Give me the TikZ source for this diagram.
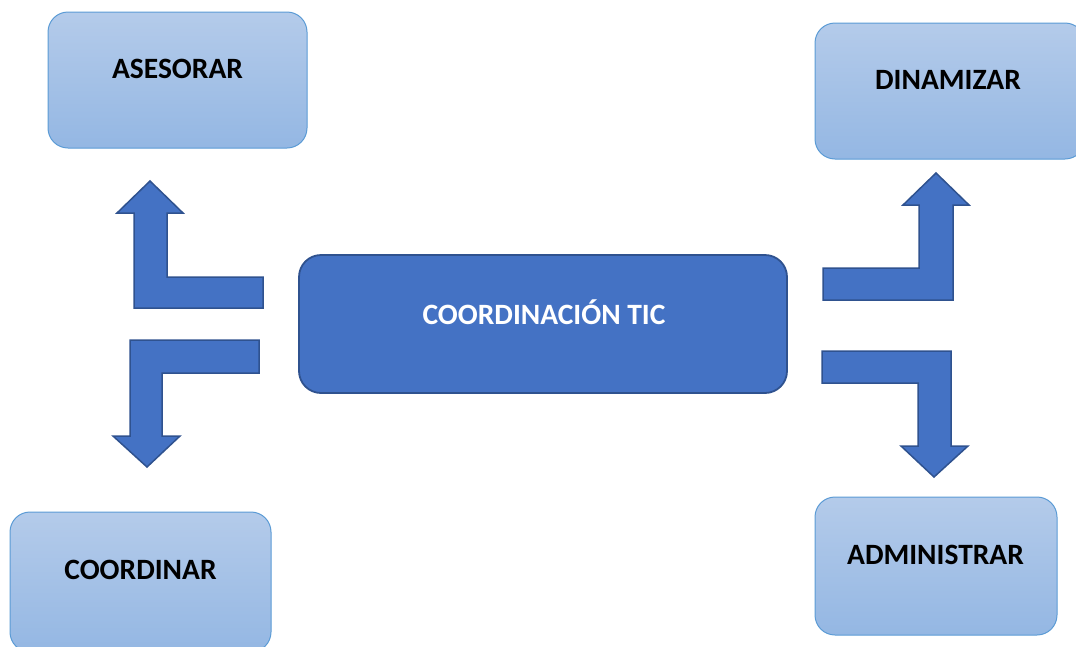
\documentclass[tikz,border=0pt]{standalone}
\usepackage{fontspec}
\setmainfont{Carlito}
\definecolor{arrowfill}{RGB}{68,114,196}
\definecolor{arrowdraw}{RGB}{47,82,143}
\definecolor{boxtop}{RGB}{180,203,234}
\definecolor{boxbot}{RGB}{148,183,227}
\definecolor{boxdraw}{RGB}{91,155,213}
\begin{document}
\begin{tikzpicture}[x=1pt,y=-1pt,
  smallbox/.style={rectangle, rounded corners=20pt, draw=boxdraw, line width=1pt,
    top color=boxtop, bottom color=boxbot, inner sep=0pt},
  mainbox/.style={rectangle, rounded corners=22pt, draw=arrowdraw, line width=1.8pt,
    fill=arrowfill, inner sep=0pt},
  lbl/.style={anchor=base, font=\fontsize{29.5}{34}\selectfont\bfseries, text=black, inner sep=0pt},
  mainlbl/.style={lbl, text=white},
  blockarrow/.style={fill=arrowfill, draw=arrowdraw, line width=1.5pt, line join=miter}]
\useasboundingbox (0,0) rectangle (1076,646);
% boxes
\node[smallbox, minimum width=259pt, minimum height=136pt] (asesorar) at (177.5,80) {};
\node[smallbox, minimum width=270pt, minimum height=136pt] (dinamizar) at (950,91) {};
\node[smallbox, minimum width=261pt, minimum height=140pt] (coordinar) at (140.5,582) {};
\node[smallbox, minimum width=242pt, minimum height=138pt] (administrar) at (936,566) {};
\node[mainbox, minimum width=488pt, minimum height=138pt] (coordtic) at (543,324) {};
% labels
\node[lbl] (asesorarT) at (177.5,78.5) {ASESORAR};
\node[lbl] (dinamizarT) at (948,89) {DINAMIZAR};
\node[lbl] (coordinarT) at (140.5,579) {COORDINAR};
\node[lbl] (administrarT) at (935.5,564) {ADMINISTRAR};
\node[mainlbl] (coordticT) at (544,324) {COORDINACIÓN TIC};
% bent block arrows
% up-left (to ASESORAR)
\draw[blockarrow] (263,277) -- (167,277) -- (167,213) -- (183,213) -- (150,181) -- (117,213)
  -- (134,213) -- (134,308) -- (263,308) -- cycle;
% down-left (to COORDINAR)
\draw[blockarrow] (259,340) -- (130,340) -- (130,436) -- (113,436) -- (147,467) -- (180,436)
  -- (162,436) -- (162,373) -- (259,373) -- cycle;
% up-right (to DINAMIZAR)
\draw[blockarrow] (823,268) -- (919,268) -- (919,205) -- (903,205) -- (936,173) -- (969,205)
  -- (953,205) -- (953,300) -- (823,300) -- cycle;
% down-right (to ADMINISTRAR)
\draw[blockarrow] (822,351) -- (951,351) -- (951,446) -- (968,446) -- (934,477) -- (901,446)
  -- (918,446) -- (918,383) -- (822,383) -- cycle;
\end{tikzpicture}
\end{document}
